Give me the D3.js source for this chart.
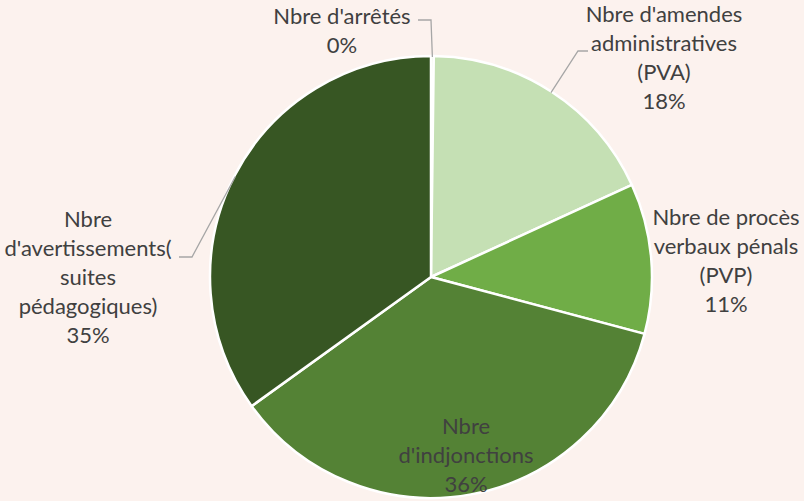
<!DOCTYPE html>
<html>
<head>
<meta charset="utf-8">
<script src="https://cdn.jsdelivr.net/npm/d3@7"></script>
<style>
  body { margin: 0; background: #fcf2ee; }
  svg { display: block; }
</style>
</head>
<body>
<div id="chart"></div>
<script>
// chart data
var categories = [
  "Nbre d'arrêtés",
  "Nbre d'amendes administratives (PVA)",
  "Nbre de procès verbaux pénals (PVP)",
  "Nbre d'indjonctions",
  "Nbre d'avertissements( suites pédagogiques)"
];
var values = [0.2, 18, 11, 36, 35];
var percentLabels = ["0%", "18%", "11%", "36%", "35%"];
// label lines as wrapped in the original
var labelLines = [
  ["Nbre d'arrêtés", "0%"],
  ["Nbre d'amendes", "administratives", "(PVA)", "18%"],
  ["Nbre de procès", "verbaux pénals", "(PVP)", "11%"],
  ["Nbre", "d'indjonctions", "36%"],
  ["Nbre", "d'avertissements(", "suites", "pédagogiques)", "35%"]
];
var colors = ["#a9d18e", "#c5e0b4", "#70ad47", "#548235", "#375623"];

// svg container
var svgWidth = 804;
var svgHeight = 501;
var cx = 431, cy = 277, radius = 221;
var lineHeight = 29;

// label placement (centre x, first baseline y) and leader elbows
var labelPos = [
  { x: 342, y: 24, leader: [[418, 20], [431, 20]] },
  { x: 664, y: 22, leader: [[588, 51], [578, 51]] },
  { x: 726, y: 225, leader: null },
  { x: 466, y: 434, leader: null },
  { x: 88, y: 227, leader: [[179, 257], [192, 257]] }
];

var svg = d3.select("#chart").append("svg")
  .attr("width", svgWidth)
  .attr("height", svgHeight);

svg.append("rect")
  .attr("width", svgWidth)
  .attr("height", svgHeight)
  .attr("fill", "#fcf2ee");

var pie = d3.pie().sort(null).value(d => d);
var arcs = pie(values);
var arc = d3.arc().innerRadius(0).outerRadius(radius);

var g = svg.append("g")
  .attr("transform", `translate(${cx}, ${cy})`);

g.selectAll("path")
  .data(arcs)
  .enter()
  .append("path")
  .attr("d", arc)
  .attr("fill", (d, i) => colors[i])
  .attr("stroke", "#ffffff")
  .attr("stroke-width", 2.5)
  .attr("stroke-linejoin", "round");

// leader lines: from label elbow to the middle of the slice edge
arcs.forEach(function(d, i) {
  var p = labelPos[i];
  if (!p.leader) return;
  var a = (d.startAngle + d.endAngle) / 2;
  var ex = cx + Math.sin(a) * (radius - 1);
  var ey = cy - Math.cos(a) * (radius - 1);
  svg.append("path")
    .attr("d", d3.line()(p.leader.concat([[ex, ey]])))
    .attr("fill", "none")
    .attr("stroke", "#a6a6a6")
    .attr("stroke-width", 1.3);
});

// labels
labelLines.forEach(function(lines, i) {
  var p = labelPos[i];
  var t = svg.append("text")
    .attr("x", p.x)
    .attr("y", p.y)
    .attr("text-anchor", "middle")
    .attr("font-family", "Lato, 'Open Sans', sans-serif")
    .attr("font-size", 22)
    .attr("fill", "#404040");
  lines.forEach(function(l, j) {
    t.append("tspan")
      .attr("x", p.x)
      .attr("dy", j === 0 ? 0 : lineHeight)
      .text(l);
  });
});
</script>
</body>
</html>
